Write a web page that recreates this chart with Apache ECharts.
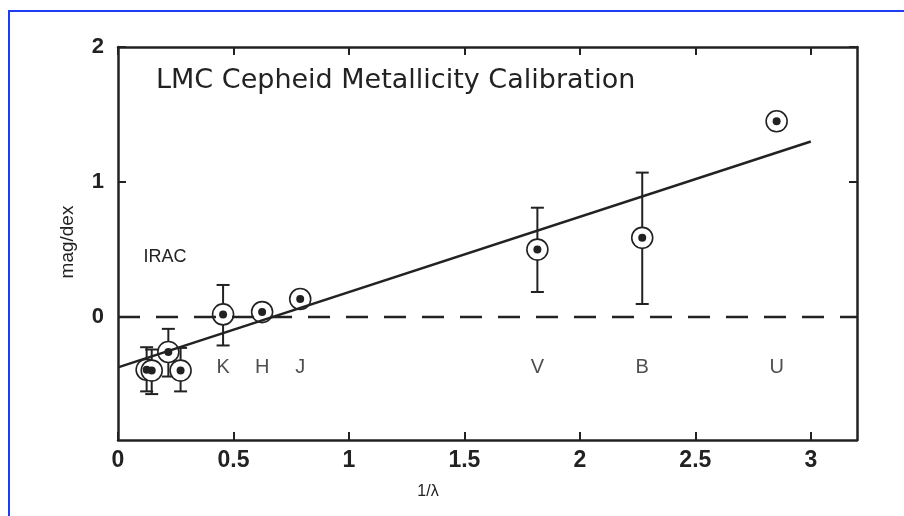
<!DOCTYPE html>
<html>
<head>
<meta charset="utf-8">
<title>LMC Cepheid Metallicity Calibration</title>
<script src="https://cdn.jsdelivr.net/npm/echarts@6/dist/echarts.min.js"></script>
<style>
  html, body { margin: 0; padding: 0; background: #fff; overflow: hidden; }
  #main { width: 904px; height: 516px; }
  .frame {
    position: absolute; left: 8px; top: 10px; width: 910px; height: 520px;
    border-left: 2px solid #1f3cf5; border-top: 2px solid #1f3cf5;
    pointer-events: none;
  }
</style>
</head>
<body>
<div id="main"></div>
<div class="frame"></div>
<script>
// measured points (1/lambda, mag/dex) with error bar ends
const pointX = [0.124, 0.146, 0.218, 0.271, 0.455, 0.624, 0.789, 1.816, 2.27, 2.852]
const pointY = [-0.389, -0.396, -0.258, -0.396, 0.02, 0.037, 0.134, 0.5, 0.587, 1.45]
const errLow = [-0.55, -0.57, -0.44, -0.55, -0.21, 0.01, 0.09, 0.186, 0.097, null]
const errHigh = [-0.223, -0.24, -0.087, -0.228, 0.238, 0.06, 0.16, 0.81, 1.07, null]

// fitted line ends
const fitX = [0, 3]
const fitY = [-0.372, 1.3]

// band labels
const bandNames = ['K', 'H', 'J', 'V', 'B', 'U']
const bandX = [0.455, 0.624, 0.789, 1.816, 2.27, 2.852]
const bandY = -0.37

const xTicks = [0, 0.5, 1, 1.5, 2, 2.5, 3]
const yTicks = [0, 1, 2]

const ink = '#222'
const font = 'Liberation Sans, Arial, Helvetica, sans-serif'

const chart = echarts.init(document.getElementById('main'))

const points = pointX.map((x, i) => [x, pointY[i]])
const errData = []
pointX.forEach((x, i) => {
  if (errLow[i] !== null) errData.push([x, errLow[i], errHigh[i]])
})
const bandData = bandNames.map((n, i) => ({ name: n, value: [bandX[i], bandY] }))

const axisCommon = {
  type: 'value',
  splitLine: { show: false },
  axisLine: { show: true, onZero: false, lineStyle: { color: ink, width: 2.5 } },
  axisTick: { show: true, inside: true, length: 8, lineStyle: { color: ink, width: 2 } },
}

const option = {
  animation: false,
  backgroundColor: '#fff',
  title: {
    text: 'LMC Cepheid Metallicity Calibration',
    left: 151,
    top: 62,
    textStyle: { fontFamily: 'DejaVu Sans, sans-serif', fontSize: 27, fontWeight: 'normal', color: ink },
  },
  grid: { left: 118, right: 47, top: 47, bottom: 76 },
  xAxis: [
    {
      ...axisCommon,
      position: 'bottom',
      min: 0,
      max: 3.2,
      axisTick: { ...axisCommon.axisTick, customValues: xTicks },
      axisLabel: {
        customValues: xTicks,
        margin: 9,
        fontFamily: font,
        fontSize: 23,
        fontWeight: 'bold',
        color: ink,
        formatter: (v) => String(v),
      },
    },
    {
      ...axisCommon,
      position: 'top',
      min: 0,
      max: 3.2,
      axisTick: { ...axisCommon.axisTick, customValues: xTicks },
      axisLabel: { show: false },
    },
  ],
  yAxis: [
    {
      ...axisCommon,
      position: 'left',
      min: -0.91,
      max: 2,
      axisTick: { ...axisCommon.axisTick, customValues: yTicks },
      axisLabel: {
        customValues: yTicks,
        margin: 14,
        fontFamily: font,
        fontSize: 22,
        fontWeight: 'bold',
        color: ink,
      },
    },
    {
      ...axisCommon,
      position: 'right',
      min: -0.91,
      max: 2,
      axisTick: { ...axisCommon.axisTick, customValues: yTicks },
      axisLabel: { show: false },
    },
  ],
  graphic: [
    {
      type: 'text',
      x: 428,
      y: 492,
      style: { text: '1/λ', font: '16px ' + font, fill: ink, align: 'center', verticalAlign: 'middle' },
    },
    {
      type: 'text',
      x: 68,
      y: 242,
      rotation: Math.PI / 2,
      style: { text: 'mag/dex', font: '19px ' + font, fill: ink, align: 'center', verticalAlign: 'middle' },
    },
    {
      type: 'text',
      x: 165,
      y: 257,
      style: { text: 'IRAC', font: '18px ' + font, fill: ink, align: 'center', verticalAlign: 'middle' },
    },
  ],
  series: [
    {
      // zero reference
      type: 'line',
      data: [[0, 0], [3.2, 0]],
      symbol: 'none',
      lineStyle: { color: ink, width: 2.5, type: [22, 16] },
    },
    {
      // fit
      type: 'line',
      data: fitX.map((x, i) => [x, fitY[i]]),
      symbol: 'none',
      lineStyle: { color: ink, width: 2.5 },
    },
    {
      type: 'custom',
      data: errData,
      renderItem: function (params, api) {
        const x = api.value(0)
        const lo = api.coord([x, api.value(1)])
        const hi = api.coord([x, api.value(2)])
        const w = 6.5
        const st = { stroke: ink, lineWidth: 2 }
        return {
          type: 'group',
          children: [
            { type: 'line', shape: { x1: lo[0], y1: lo[1], x2: hi[0], y2: hi[1] }, style: st },
            { type: 'line', shape: { x1: lo[0] - w, y1: lo[1], x2: lo[0] + w, y2: lo[1] }, style: st },
            { type: 'line', shape: { x1: hi[0] - w, y1: hi[1], x2: hi[0] + w, y2: hi[1] }, style: st },
          ],
        }
      },
    },
    {
      // rings
      type: 'scatter',
      data: points,
      symbol: 'circle',
      symbolSize: 21,
      itemStyle: { color: '#fff', borderColor: ink, borderWidth: 1.6, opacity: 1 },
    },
    {
      // dots
      type: 'scatter',
      data: points,
      symbol: 'circle',
      symbolSize: 8,
      itemStyle: { color: ink, opacity: 1 },
    },
    {
      type: 'scatter',
      data: bandData,
      symbolSize: 0,
      label: {
        show: true,
        position: 'inside',
        formatter: '{b}',
        fontFamily: font,
        fontSize: 20,
        color: ink,
      },
    },
  ],
}

chart.setOption(option)
</script>
</body>
</html>
